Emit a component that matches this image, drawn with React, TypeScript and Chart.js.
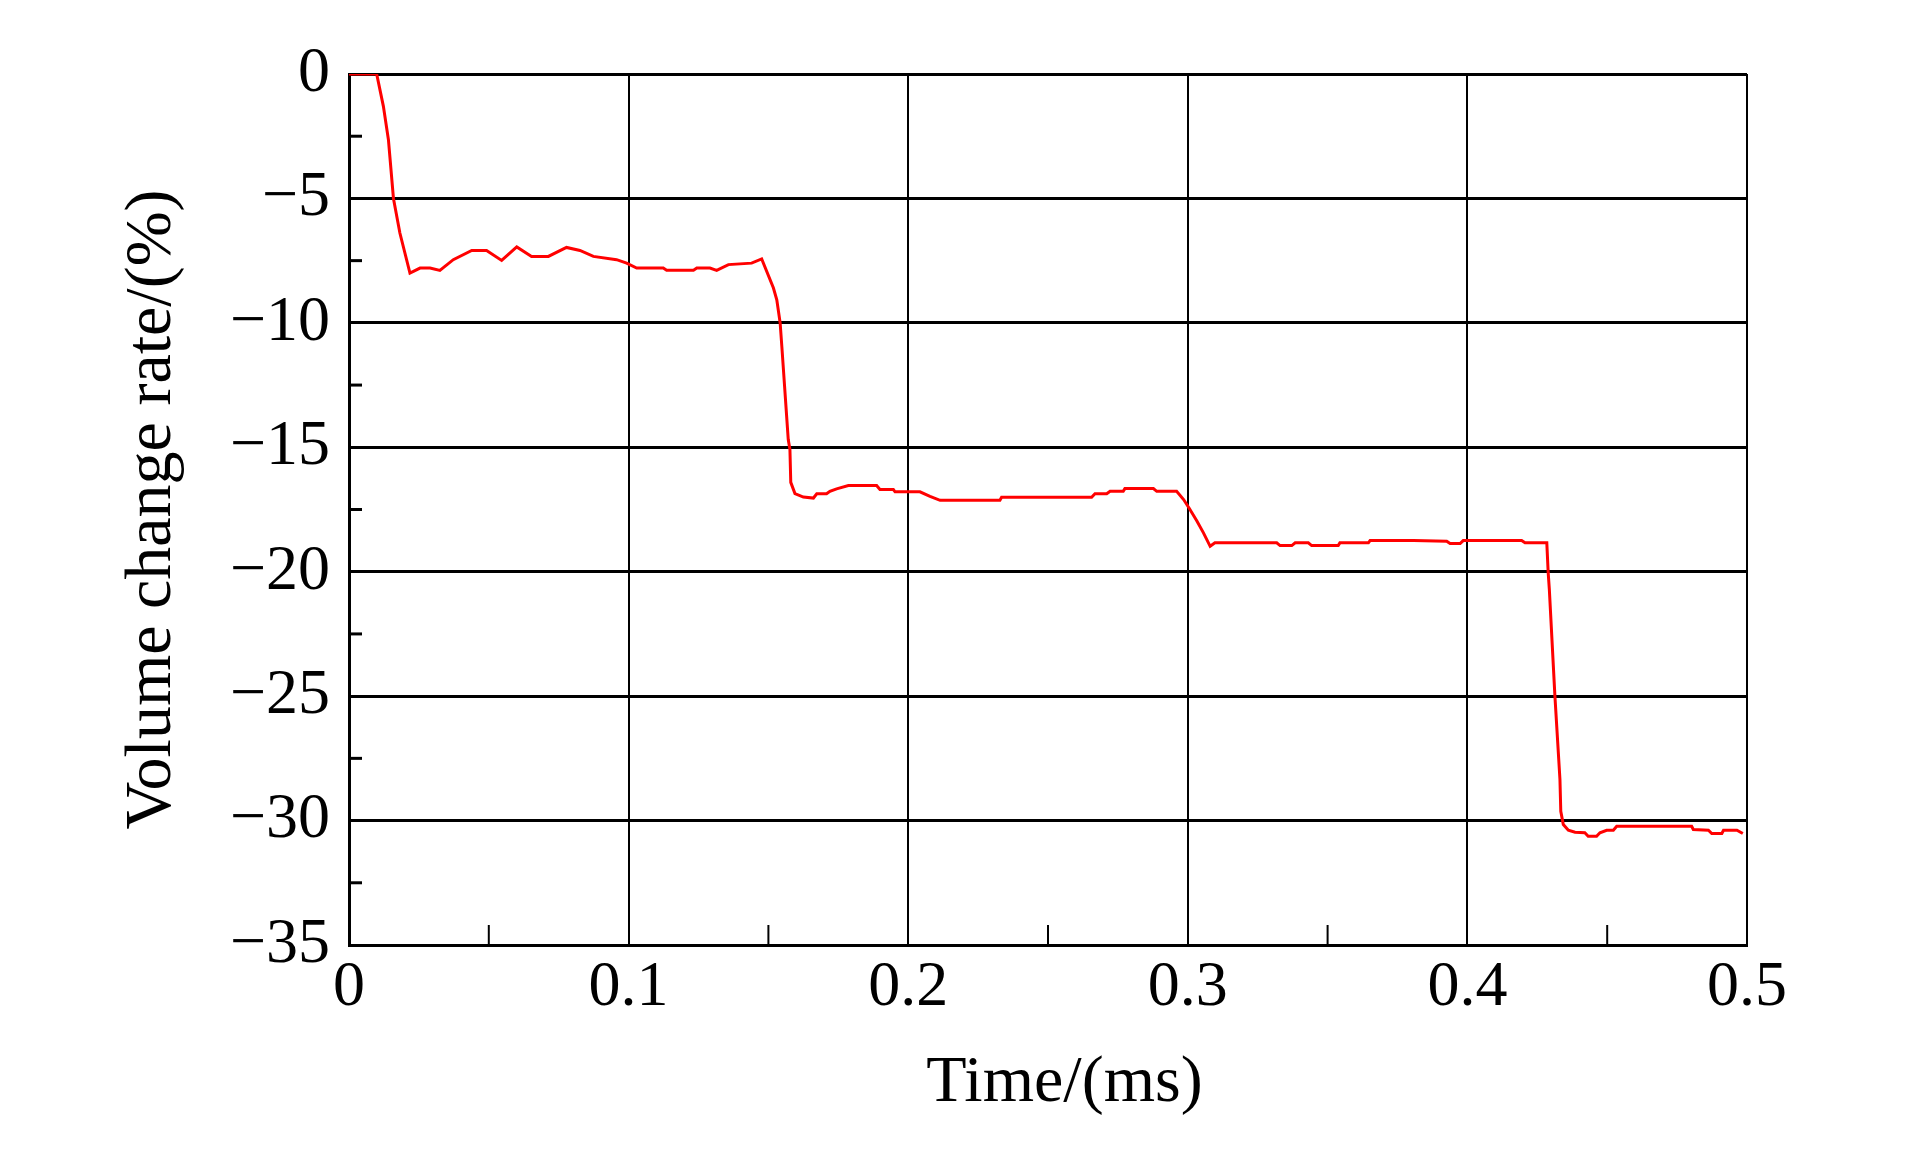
import React, { useEffect, useRef } from "react";
import { Chart, registerables } from "chart.js";

Chart.register(...registerables);

// Time in ms
const timeMs = [
  0, 0.0099, 0.0123, 0.0141, 0.0159, 0.0182, 0.0218, 0.0254, 0.029, 0.0325,
  0.0373, 0.0439, 0.0492, 0.0546, 0.06, 0.0653, 0.0713, 0.0778, 0.0826, 0.0874,
  0.0957, 0.0993, 0.1029, 0.1124, 0.1136, 0.1232, 0.1244, 0.1291, 0.1315, 0.1357,
  0.144, 0.1476, 0.1518, 0.153, 0.1542, 0.1548, 0.1571, 0.1577, 0.158, 0.1595,
  0.1625, 0.1661, 0.1673, 0.1708, 0.172, 0.1744, 0.1786, 0.1887, 0.1899, 0.1947,
  0.1953, 0.2042, 0.2078, 0.2114, 0.2328, 0.2334, 0.2656, 0.2668, 0.271, 0.2722,
  0.2769, 0.2775, 0.2877, 0.2889, 0.296, 0.2985, 0.3005, 0.3032, 0.3056, 0.308,
  0.3097, 0.3318, 0.333, 0.3372, 0.3384, 0.3431, 0.3443, 0.3538, 0.3544, 0.3646,
  0.3652, 0.3807, 0.3926, 0.3938, 0.3974, 0.3985, 0.4194, 0.4206, 0.4284, 0.4289,
  0.4293, 0.4313, 0.4331, 0.4334, 0.4343, 0.4361, 0.4385, 0.442, 0.4432, 0.4462,
  0.4474, 0.4498, 0.4522, 0.4534, 0.4802, 0.4808, 0.4862, 0.4874, 0.491, 0.4916,
  0.4964, 0.4985,
];

// Volume change rate in %
const volumeRate = [
  0, 0, -1.3, -2.64, -5.0, -6.39, -8.0, -7.8, -7.8, -7.89,
  -7.46, -7.09, -7.09, -7.49, -6.95, -7.33, -7.33, -6.97, -7.09, -7.33,
  -7.46, -7.6, -7.8, -7.8, -7.89, -7.89, -7.8, -7.8, -7.89, -7.66,
  -7.6, -7.43, -8.6, -9.07, -10.0, -10.94, -14.69, -15.09, -16.41, -16.86,
  -17.0, -17.04, -16.87, -16.87, -16.77, -16.67, -16.54, -16.54, -16.7, -16.7,
  -16.79, -16.79, -16.97, -17.13, -17.13, -17.01, -17.01, -16.87, -16.87, -16.77,
  -16.77, -16.66, -16.66, -16.77, -16.77, -17.1, -17.45, -17.95, -18.44, -18.98,
  -18.84, -18.84, -18.95, -18.95, -18.84, -18.84, -18.95, -18.95, -18.84, -18.84,
  -18.75, -18.75, -18.78, -18.87, -18.87, -18.75, -18.75, -18.84, -18.84, -20.05,
  -20.7, -25.0, -28.35, -29.63, -30.16, -30.39, -30.47, -30.49, -30.63, -30.63,
  -30.49, -30.39, -30.39, -30.23, -30.23, -30.36, -30.39, -30.52, -30.52, -30.39,
  -30.39, -30.52,
];

const xMin = 0;
const xMax = 0.5;
const xStep = 0.1;
const yMin = -35;
const yMax = 0;
const yStep = 5;
const xMinorTicks = [0.05, 0.15, 0.25, 0.35, 0.45];
const yMinorTicks = [-2.5, -7.5, -12.5, -17.5, -22.5, -27.5, -32.5];

const xTitle = "\u2002Time/(ms)";
const yTitle = "Volume change rate/(%)";

const FONT = "'Liberation Serif', 'Times New Roman', serif";

const minorTickPlugin = {
  id: "minorTicks",
  afterDraw(chart: any) {
    const { ctx, chartArea, scales } = chart;
    ctx.save();
    ctx.strokeStyle = "#000";
    ctx.lineWidth = 3;
    for (const v of yMinorTicks) {
      const py = scales.y.getPixelForValue(v);
      ctx.beginPath();
      ctx.moveTo(chartArea.left, py);
      ctx.lineTo(chartArea.left + 13, py);
      ctx.stroke();
    }
    ctx.lineWidth = 2;
    for (const v of xMinorTicks) {
      const px = scales.x.getPixelForValue(v);
      ctx.beginPath();
      ctx.moveTo(px, chartArea.bottom);
      ctx.lineTo(px, chartArea.bottom - 20);
      ctx.stroke();
    }
    ctx.restore();
  },
};

export default function App() {
  const canvasRef = useRef<HTMLCanvasElement | null>(null);

  useEffect(() => {
    document.body.style.margin = "0";
    const canvas = canvasRef.current;
    if (!canvas) return;
    const points = timeMs.map((t, i) => ({ x: t, y: volumeRate[i] }));
    const chart = new Chart(canvas, {
      type: "line",
      data: {
        datasets: [
          {
            data: points,
            borderColor: "#ff0000",
            borderWidth: 3,
            pointRadius: 0,
            tension: 0,
            fill: false,
          },
        ],
      },
      options: {
        animation: false,
        responsive: false,
        maintainAspectRatio: false,
        layout: { padding: { top: 74, right: 176, left: 0, bottom: 0 } },
        plugins: { legend: { display: false }, tooltip: { enabled: false } },
        scales: {
          x: {
            type: "linear",
            min: xMin,
            max: xMax,
            afterFit: (s: any) => {
              s.height = 224;
            },
            ticks: {
              stepSize: xStep,
              padding: 5,
              color: "#000",
              font: { family: FONT, size: 64 },
              maxRotation: 0,
              callback: (v: any) => (Number(v) === 0 ? "0" : Number(v).toFixed(1)),
            },
            grid: { color: "#000", lineWidth: 2, drawTicks: false },
            border: { display: true, color: "#000", width: 3 },
            title: {
              display: true,
              text: xTitle,
              color: "#000",
              font: { family: FONT, size: 66 },
              padding: { top: 0, bottom: 46 },
            },
          },
          y: {
            type: "linear",
            min: yMin,
            max: yMax,
            afterFit: (s: any) => {
              s.width = 349;
            },
            ticks: {
              stepSize: yStep,
              padding: 19,
              color: "#000",
              font: { family: FONT, size: 64 },
              callback: (v: any) => {
                const n = Number(v);
                return n < 0 ? "\u2212" + Math.abs(n) : String(n);
              },
            },
            grid: { color: "#000", lineWidth: 3, drawTicks: false },
            border: { display: true, color: "#000", width: 3 },
            title: {
              display: true,
              text: yTitle,
              color: "#000",
              font: { family: FONT, size: 66 },
              padding: { top: 113, bottom: 0 },
            },
          },
        },
      },
      plugins: [minorTickPlugin],
    });
    return () => chart.destroy();
  }, []);

  return (
    <div style={{ position: "fixed", left: 0, top: 0, width: 1923, height: 1169, background: "#fff" }}>
      <canvas ref={canvasRef} width={1923} height={1169} style={{ width: 1923, height: 1169 }} />
    </div>
  );
}
